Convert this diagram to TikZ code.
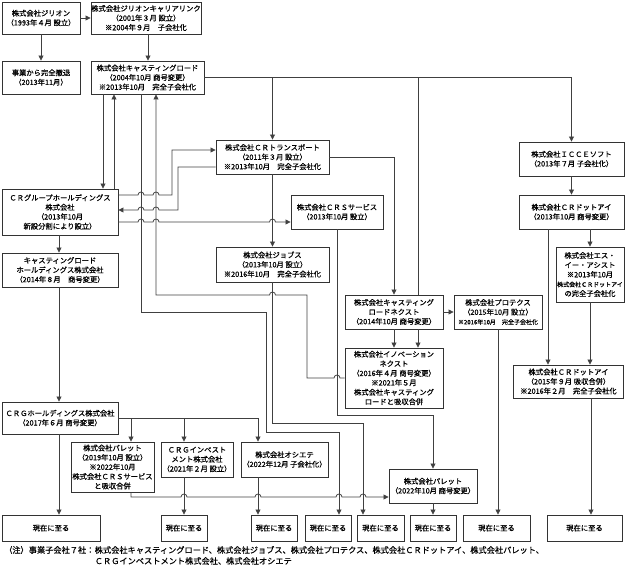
\documentclass[tikz,border=0pt]{standalone}
\usepackage{fontspec}
\setmainfont{Noto Sans CJK JP}[FakeBold=0.6]
\usetikzlibrary{arrows.meta}
\begin{document}
\begin{tikzpicture}[x=1pt,y=-1pt,
  box/.style={draw=black!80,line width=0.9pt,fill=white,inner sep=0pt,align=center,font=\fontsize{7.3}{9.5}\selectfont},
  line/.style={draw=black!75,line width=0.8pt},
  arr/.style={line,-{Triangle[length=5pt,width=5pt]}}]
\useasboundingbox (0,0) rectangle (625,565);
% boxes
\node[box,minimum width=78pt,minimum height=32pt] (A) at (41,18) {株式会社ジリオン\\（1993年４月 設立）};
\node[box,minimum width=110pt,minimum height=32pt] (B) at (146,18) {株式会社ジリオンキャリアリンク\\（2001年３月 設立）\\※2004年９月　子会社化};
\node[box,minimum width=78pt,minimum height=33pt] (C) at (41,77.5) {事業から完全撤退\\（2013年11月）};
\node[box,minimum width=113pt,minimum height=33pt] (D) at (147.5,77.5) {株式会社キャスティングロード\\（2004年10月 商号変更）\\※2013年10月　完全子会社化};
\node[box,minimum width=113pt,minimum height=34pt] (E) at (272.5,157) {株式会社ＣＲトランスポート\\（2011年３月 設立）\\※2013年10月　完全子会社化};
\node[box,minimum width=116pt,minimum height=46pt] (F) at (60,212) {ＣＲグループホールディングス\\株式会社\\（2013年10月\\新設分割により設立）};
\node[box,minimum width=92pt,minimum height=34pt] (G) at (337,212) {株式会社ＣＲＳサービス\\（2013年10月 設立）};
\node[box,minimum width=116pt,minimum height=34pt] (H) at (60,270) {キャスティングロード\\ホールディングス株式会社\\（2014年８月　商号変更）};
\node[box,minimum width=113pt,minimum height=35pt] (I) at (272.5,264.5) {株式会社ジョブス\\（2013年10月 設立）\\※2016年10月　完全子会社化};
\node[box,minimum width=105pt,minimum height=34pt] (J) at (571.5,159) {株式会社ＩＣＣＥソフト\\（2013年７月 子会社化）};
\node[box,minimum width=105pt,minimum height=34pt] (K) at (571.5,212) {株式会社ＣＲドットアイ\\（2013年10月 商号変更）};
\node[box,minimum width=68pt,minimum height=55pt] (L) at (590,274.5) {株式会社エス・\\イー・アシスト\\※2013年10月\\\fontsize{6}{9.5}\selectfont 株式会社ＣＲドットアイ\\の完全子会社化};
\node[box,minimum width=98pt,minimum height=34pt] (M) at (394,312) {株式会社キャスティング\\ロードネクスト\\（2014年10月 商号変更）};
\node[box,minimum width=88pt,minimum height=34pt] (N) at (498,312) {株式会社プロテクス\\（2015年10月 設立）\\\fontsize{6}{9.5}\selectfont ※2016年10月　完全子会社化};
\node[box,minimum width=98pt,minimum height=60pt] (O) at (394,378) {株式会社イノベーション\\ネクスト\\（2016年４月 商号変更）\\※2021年５月\\株式会社キャスティング\\ロードと吸収合併};
\node[box,minimum width=110pt,minimum height=33pt] (P) at (568.5,381.5) {株式会社ＣＲドットアイ\\（2015年９月 吸収合併）\\※2016年２月　完全子会社化};
\node[box,minimum width=116pt,minimum height=32pt] (Q) at (60,418) {ＣＲＧホールディングス株式会社\\（2017年６月 商号変更）};
\node[box,minimum width=83pt,minimum height=50pt] (R) at (112.5,467) {株式会社パレット\\（2019年10月 設立）\\※2022年10月\\株式会社ＣＲＳサービス\\と吸収合併};
\node[box,minimum width=72pt,minimum height=35pt] (S) at (197,459.5) {ＣＲＧインベスト\\メント株式会社\\（2021年２月 設立）};
\node[box,minimum width=87pt,minimum height=35pt] (T) at (284.5,459.5) {株式会社オシエテ\\（2022年12月 子会社化）};
\node[box,minimum width=88pt,minimum height=34pt] (U) at (433,486) {株式会社パレット\\（2022年10月 商号変更）};
% bottom row
\node[box,minimum width=98pt,minimum height=26pt] (Z1) at (51,528) {現在に至る};
\node[box,minimum width=46pt,minimum height=26pt] (Z2) at (184,528) {現在に至る};
\node[box,minimum width=46pt,minimum height=26pt] (Z3) at (274,528) {現在に至る};
\node[box,minimum width=46pt,minimum height=26pt] (Z4) at (328,528) {現在に至る};
\node[box,minimum width=47pt,minimum height=26pt] (Z5) at (380.5,528) {現在に至る};
\node[box,minimum width=46pt,minimum height=26pt] (Z6) at (433,528) {現在に至る};
\node[box,minimum width=67pt,minimum height=26pt] (Z7) at (496.5,528) {現在に至る};
\node[box,minimum width=75pt,minimum height=26pt] (Z8) at (584.5,528) {現在に至る};
% note
\node[anchor=west,inner sep=0pt,font=\fontsize{8.2}{10}\selectfont] (n0) at (4,550) {（注）事業子会社７社：};
\node[anchor=west,inner sep=0pt,font=\fontsize{8.2}{10}\selectfont] (n1) at (n0.east) {株式会社キャスティングロード、株式会社ジョブス、株式会社プロテクス、株式会社ＣＲドットアイ、株式会社パレット、};
\node[anchor=west,inner sep=0pt,font=\fontsize{8.2}{10}\selectfont] (n2) at (n1.west |- 0,561) {ＣＲＧインベストメント株式会社、株式会社オシエテ};
% junction coordinates
\coordinate (dO) at (418,77.5);
\coordinate (qR) at (131,418);
\coordinate (qS) at (184,418);
% connectors
\draw[arr] (A) -- (B);
\draw[arr] (A) -- (C);
\draw[arr] (B.south -| 148,0) -- (D.north -| 148,0);
\draw[arr] (D.east) -- (J.north |- D.east) -- (J.north);
\draw[arr] (E.north |- D.east) -- (E.north);
\draw[line] (dO) -- (dO |- M.north);
\draw[arr] (dO |- M.south) -- (dO |- O.north);
\draw[arr] (D.south -| 103,0) -- (F.north -| 103,0);
\draw[arr] (F.north -| 114,0) -- (D.south -| 114,0);
\draw[arr] (D.south -| 141,0) -- (141,312) -- (266,312) -- (266,432) -- (339,432) -- (Z4.north -| 339,0);
\draw[arr] (O.west) -- (340,378) arc[start angle=0,end angle=180,radius=3pt] -- (307,378) -- (307,295) -- (275.5,295) arc[start angle=0,end angle=180,radius=3pt] -- (156,295) -- (D.south -| 156,0);
\draw[arr] (E.west |- 0,167) -- (178,167) -- (178,210) -- (159,210) arc[start angle=0,end angle=180,radius=3pt] -- (144,210) arc[start angle=0,end angle=180,radius=3pt] -- (F.east |- 0,210);
\draw[arr] (F.east |- 0,195) -- (138,195) arc[start angle=180,end angle=0,radius=3pt] -- (153,195) arc[start angle=180,end angle=0,radius=3pt] -- (172,195) -- (172,150) -- (E.west |- 0,150);
\draw[arr] (F.east |- 0,222) -- (138,222) arc[start angle=180,end angle=0,radius=3pt] -- (153,222) arc[start angle=180,end angle=0,radius=3pt] -- (269.5,222) arc[start angle=180,end angle=0,radius=3pt] -- (G.west |- 0,222);
\draw[arr] (E) -- (I);
\draw[arr] (E.east) -- (M.north |- E.east) -- (M.north);
\draw[arr] (I.south) -- (272.5,423) -- (363,423) -- (Z5.north -| 363,0);
\draw[arr] (G.south) -- (337,415) -- (433,415) -- (U.north);
\draw[arr] (M) -- (N);
\draw[arr] (M) -- (O);
\draw[arr] (N.south) -- (N.south |- Z7.north);
\draw[arr] (J) -- (K);
\draw[arr] (K.south -| L.north) -- (L.north);
\draw[arr] (K.south -| 548,0) -- (P.north -| 548,0);
\draw[arr] (L.south) -- (L.south |- P.north);
\draw[arr] (P.south -| 591,0) -- (Z8.north -| 591,0);
\draw[arr] (F.south -| 59,0) -- (H.north -| 59,0);
\draw[arr] (H.south -| 59,0) -- (Q.north -| 59,0);
\draw[arr] (Q.south -| 59,0) -- (Z1.north -| 59,0);
\draw[arr] (Q.east) -- (258,418) -- (T.north -| 258,0);
\draw[arr] (qR) -- (R.north -| qR);
\draw[arr] (qS) -- (S.north -| qS);
\draw[arr] (S.south -| 184,0) -- (Z2.north -| 184,0);
\draw[arr] (T.south -| 258,0) -- (Z3.north -| 258,0);
\draw[arr] (R.south -| 131,0) -- (131,497) -- (181,497) arc[start angle=180,end angle=0,radius=3pt] -- (255,497) arc[start angle=180,end angle=0,radius=3pt] -- (336,497) arc[start angle=180,end angle=0,radius=3pt] -- (360,497) arc[start angle=180,end angle=0,radius=3pt] -- (U.west |- 0,497);
\draw[arr] (U) -- (Z6);
\end{tikzpicture}
\end{document}
